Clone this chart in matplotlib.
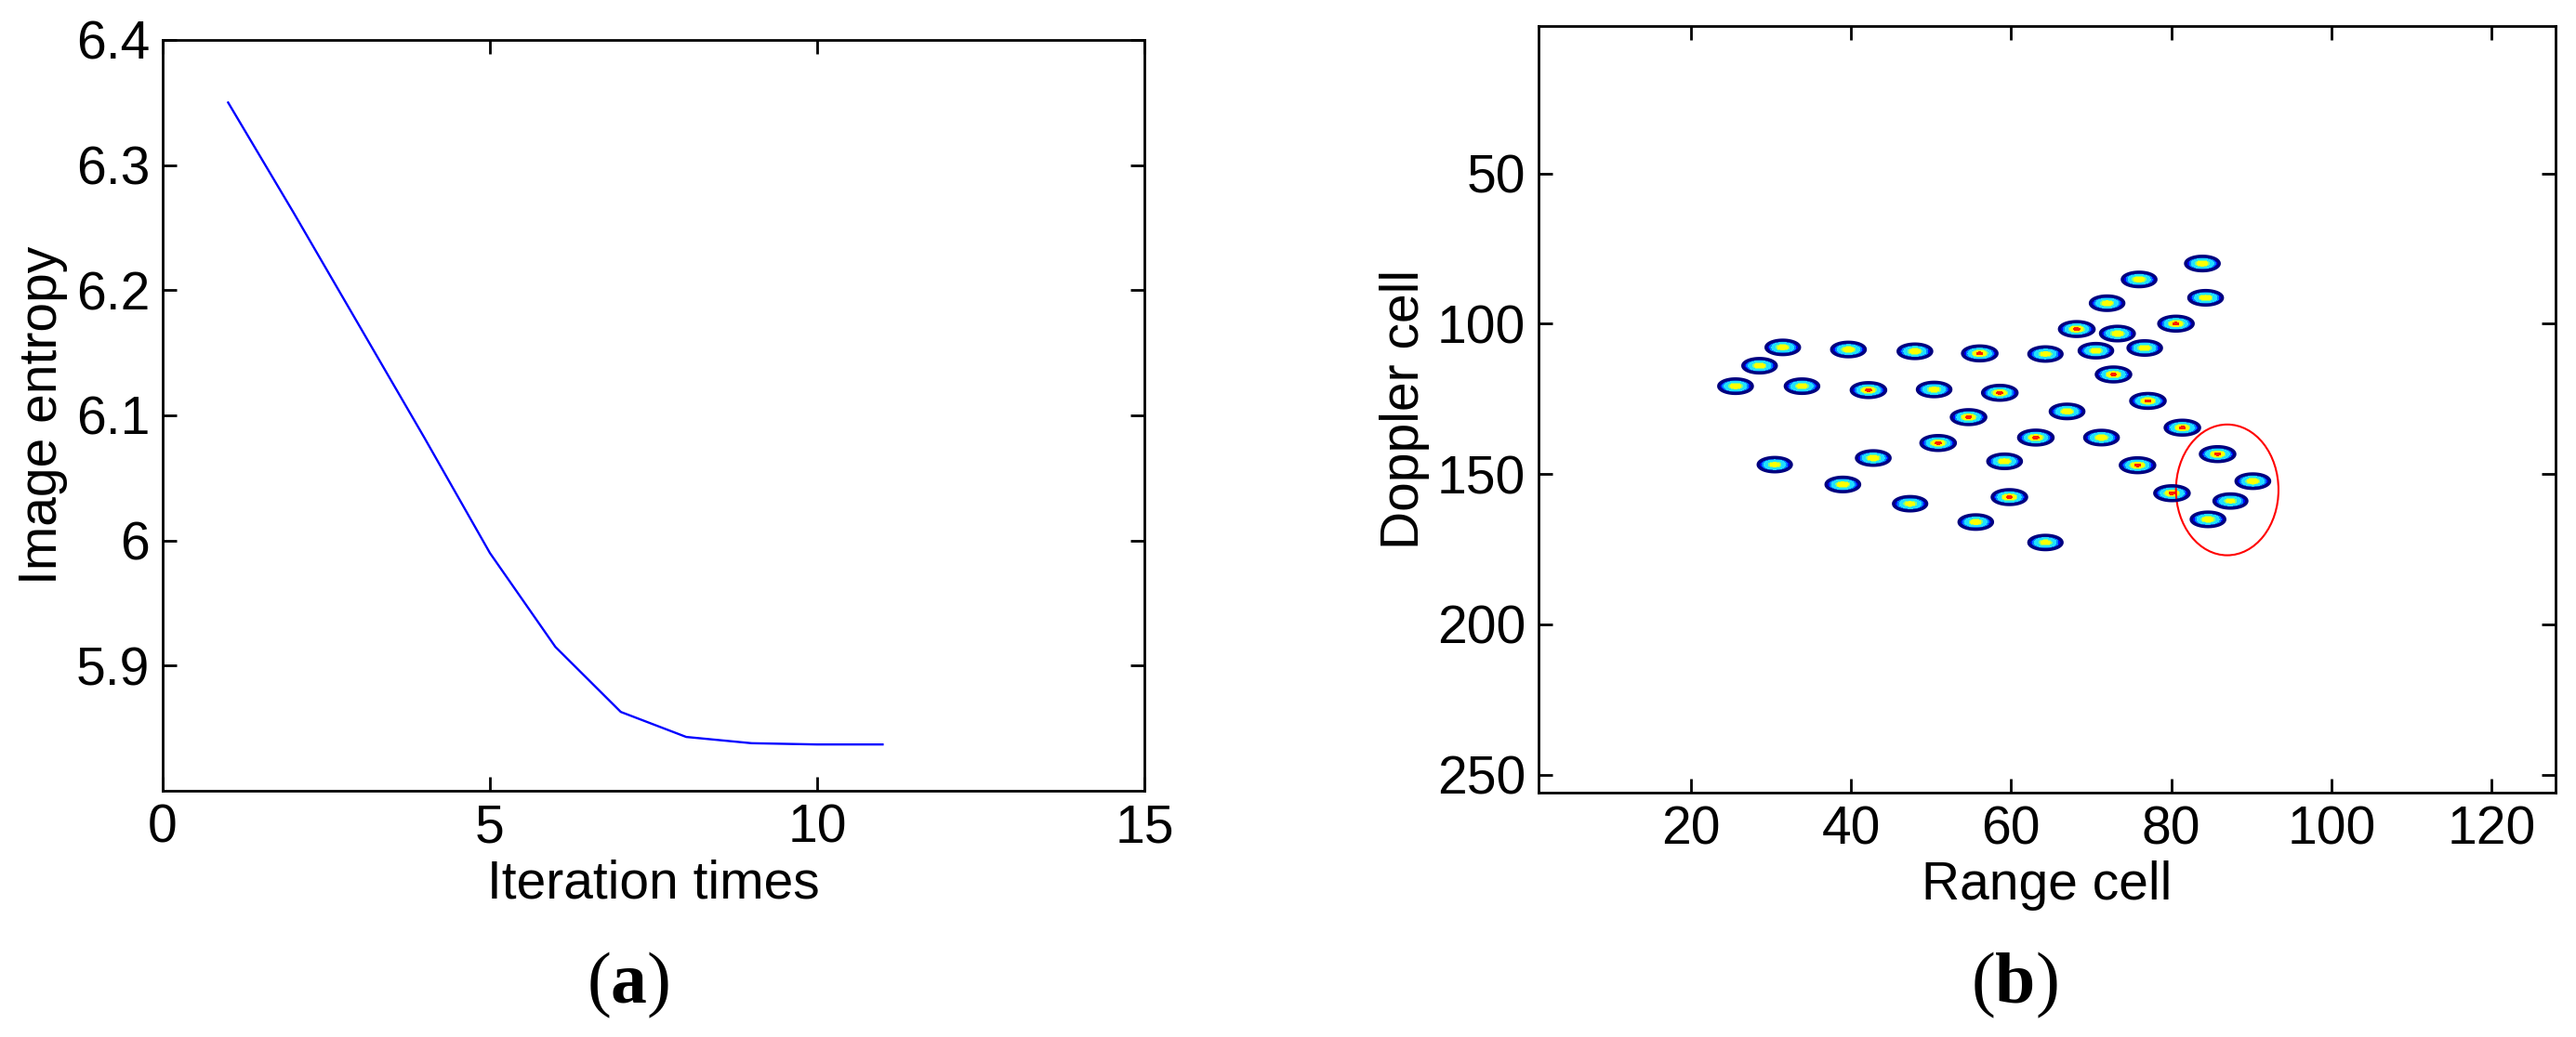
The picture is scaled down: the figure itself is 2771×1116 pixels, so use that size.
import numpy as np
import matplotlib
matplotlib.use("Agg")
import matplotlib.pyplot as plt
from matplotlib.patches import Ellipse

plt.rcParams['font.family'] = ['Liberation Sans', 'DejaVu Sans']
plt.rcParams['mathtext.fontset'] = 'custom'
plt.rcParams['mathtext.rm'] = 'Liberation Serif'
plt.rcParams['mathtext.bf'] = 'Liberation Serif:bold'

# ---------------- data (a) ----------------
iterations = [1, 2, 3, 4, 5, 6, 7, 8, 9, 10, 11]
entropy = [6.350, 6.262, 6.172, 6.082, 5.990, 5.915, 5.863, 5.843, 5.838, 5.837, 5.837]

# ---------------- data (b): scatterer positions ----------------
range_cell = [83.9, 76.0, 84.3, 72.0, 80.6, 68.2, 73.3, 31.5, 39.7, 48.0,
              56.1, 64.3, 70.6, 76.7, 28.6, 25.6, 33.9, 42.2, 50.4, 58.6,
              72.8, 77.1, 54.7, 67.0, 81.4, 50.9, 63.1, 71.3, 30.5, 42.8,
              59.2, 75.8, 85.8, 90.2, 39.0, 80.1, 87.4, 47.4, 59.8, 84.6,
              55.6, 64.3]
doppler_cell = [80.0, 85.3, 91.4, 93.2, 100.0, 101.8, 103.3, 107.9, 108.6, 109.2,
                109.9, 110.1, 109.0, 108.1, 114.0, 120.8, 120.8, 122.1, 121.9, 123.0,
                116.9, 125.7, 131.1, 129.2, 134.6, 139.7, 137.9, 137.9, 146.9, 144.7,
                145.8, 147.1, 143.4, 152.4, 153.5, 156.4, 159.0, 159.9, 157.7, 165.1,
                166.0, 172.8]
amplitude = [0.90, 0.90, 0.90, 0.88, 1.00, 1.00, 0.90, 0.88, 0.90, 0.90,
             1.00, 0.85, 0.88, 0.88, 0.88, 0.90, 0.88, 1.00, 0.88, 1.00,
             1.00, 1.00, 1.00, 0.90, 1.00, 1.00, 1.00, 0.90, 0.85, 0.90,
             0.90, 1.00, 1.00, 0.90, 0.90, 1.00, 0.82, 0.85, 1.00, 0.90,
             0.88, 0.85]
ellipse_center = (87.0, 155.3)
ellipse_size = (12.8, 43.5)

fig = plt.figure(figsize=(27.71, 11.16), dpi=100)

FS = 41
LW = 2.0

def style(ax):
    ax.tick_params(direction='in', length=11, width=LW, top=True, right=True,
                   labelsize=FS, pad=10)
    for s in ax.spines.values():
        s.set_linewidth(LW)

# ---------------- panel (a) ----------------
ax1 = fig.add_axes([175/2771, 1-851/1116, (1231-175)/2771, (851-43)/1116])
ax1.plot(iterations, entropy, color='#0000FF', lw=1.7)
ax1.set_xlim(0, 15)
ax1.set_ylim(5.8, 6.4)
ax1.set_xticks([0, 5, 10, 15])
ax1.set_yticks([5.9, 6.0, 6.1, 6.2, 6.3, 6.4])
ax1.set_yticklabels(['5.9', '6', '6.1', '6.2', '6.3', '6.4'])
style(ax1)
ax1.set_xlabel('Iteration times', fontsize=FS, labelpad=4)
ax1.set_ylabel('Image entropy', fontsize=FS, labelpad=6)

# ---------------- panel (b) ----------------
ax2 = fig.add_axes([1655/2771, 1-853/1116, (2749-1655)/2771, (853-28)/1116])
gx = np.arange(1, 128.01, 0.1)
gy = np.arange(1, 256.01, 0.1)
field = np.zeros((gy.size, gx.size))
sig_x, sig_y = 1.0, 1.15
for xc, yc, a in zip(range_cell, doppler_cell, amplitude):
    fx = np.exp(-(gx - xc) ** 2 / (2 * sig_x ** 2))
    fy = np.exp(-(gy - yc) ** 2 / (2 * sig_y ** 2))
    field += a * np.outer(fy, fx)

levels = [0.10, 0.16, 0.24, 0.34, 0.62, 0.72, 0.93, 1.2]
band_colors = ['#00008F', '#0000FF', '#0080FF', '#20E0FF', '#80FF80', '#FFFF00', '#FF2000']
ax2.contourf(gx, gy, field, levels=levels, colors=band_colors)
ax2.contour(gx, gy, field, levels=[0.10], colors=['#00007F'], linewidths=2.5)
ax2.add_patch(Ellipse(ellipse_center, ellipse_size[0], ellipse_size[1],
                      fill=False, edgecolor='#FF0000', lw=1.5))
ax2.set_xlim(1, 128)
ax2.set_ylim(256, 1)
ax2.set_xticks([20, 40, 60, 80, 100, 120])
ax2.set_yticks([50, 100, 150, 200, 250])
style(ax2)
ax2.set_xlabel('Range cell', fontsize=FS, labelpad=4)
ax2.set_ylabel('Doppler cell', fontsize=FS, labelpad=6)

# ---------------- panel captions ----------------
fig.text(676/2771, 1-1060/1116, r'($\mathbf{a}$)', fontsize=56,
         family='Liberation Serif', ha='center', va='center')
fig.text(2167/2771, 1-1060/1116, r'($\mathbf{b}$)', fontsize=56,
         family='Liberation Serif', ha='center', va='center')

fig.savefig('out.png', dpi=100, facecolor='white')
